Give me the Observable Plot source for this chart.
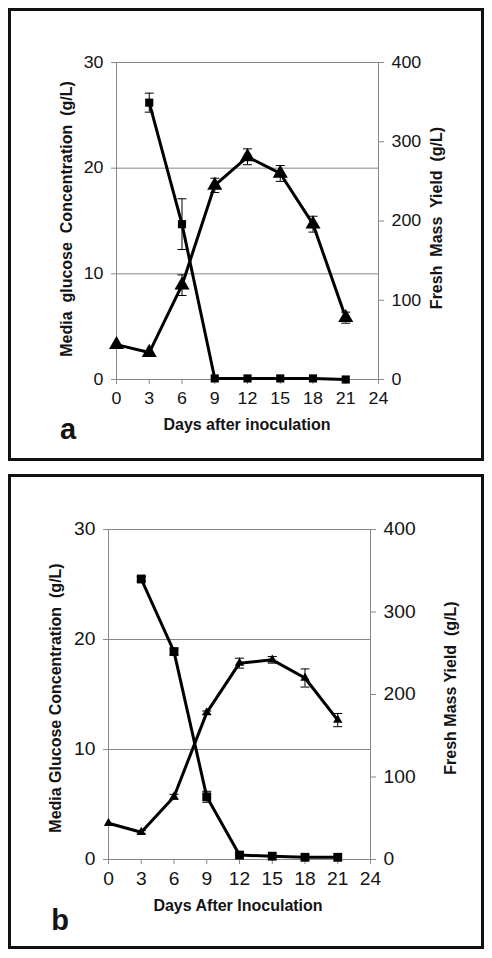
<!DOCTYPE html>
<html>
<head>
<meta charset="utf-8">
<script src="https://cdn.jsdelivr.net/npm/d3@7"></script>
<script src="https://cdn.jsdelivr.net/npm/@observablehq/plot@0.6"></script>
<style>
  html, body { margin: 0; padding: 0; background: #fff; }
  #page { position: relative; width: 492px; height: 958px; overflow: hidden; background: #fff; }
  #page svg { position: absolute; left: 0; }
</style>
</head>
<body>
<div id="page"></div>
<script>
// ---- data ----
const days = [0, 3, 6, 9, 12, 15, 18, 21];
const glucoseDays = [3, 6, 9, 12, 15, 18, 21];

// panel a
const glucoseA = [26.2, 14.7, 0.1, 0.1, 0.1, 0.1, 0.0];
const glucoseErrA = [0.9, 2.4, 0, 0, 0, 0, 0];
const massA = [44, 34, 119, 245, 281, 260, 196, 78];
const massErrA = [0, 0, 13, 9, 10, 10, 10, 7];

// panel b
const glucoseB = [25.5, 18.9, 5.7, 0.4, 0.3, 0.2, 0.2];
const glucoseErrB = [0.2, 0.3, 0.5, 0, 0, 0, 0];
const massB = [44, 33, 76, 178, 238, 242, 220, 169];
const massErrB = [0, 2, 3, 2, 6, 4, 11, 8];

const xTicks = [0, 3, 6, 9, 12, 15, 18, 21, 24];
const leftTicks = [0, 10, 20, 30];
const rightTicks = [0, 100, 200, 300, 400];
const gridTicks = [10, 20, 30];

const K = 30 / 400; // right-axis units to left-axis units

const GRAY = "#878787";
const INK = "#141414";
const FONT = "'Liberation Sans', Arial, sans-serif";

const capSymbol = {
  draw(context, size) {
    context.moveTo(-4.5, 0);
    context.lineTo(4.5, 0);
  }
};

function panel(cfg) {
  const g = cfg.glucose.map((v, i) => ({day: glucoseDays[i], v, e: cfg.glucoseErr[i]}));
  const m = cfg.mass.map((v, i) => ({day: days[i], v: v * K, e: cfg.massErr[i] * K}));
  const gErr = g.filter(d => d.e > 0);
  const mErr = m.filter(d => d.e > 0);
  const ends = [...gErr, ...mErr].flatMap(d => [{day: d.day, y: d.v + d.e}, {day: d.day, y: d.v - d.e}]);

  const svg = Plot.plot({
    width: 492,
    height: cfg.height,
    marginLeft: cfg.left,
    marginRight: 492 - cfg.right,
    marginTop: cfg.top,
    marginBottom: cfg.height - cfg.bottom,
    style: {fontFamily: FONT, fontSize: cfg.tickFont + "px", color: INK, background: "transparent", overflow: "visible"},
    x: {domain: [0, 24]},
    y: {domain: [0, 30]},
    marks: [
      Plot.ruleY(gridTicks, {stroke: GRAY, strokeWidth: 1}),
      Plot.ruleX([0, 24], {stroke: GRAY, strokeWidth: 1}),
      Plot.ruleY([0], {stroke: GRAY, strokeWidth: 1}),
      Plot.axisX({ticks: xTicks, tickSize: 5, tickPadding: cfg.xPad, stroke: GRAY, fill: INK, label: null, tickFormat: d => String(d)}),
      Plot.axisY({anchor: "left", ticks: leftTicks, tickSize: 5, tickPadding: 8, stroke: GRAY, fill: INK, label: null, tickFormat: d => String(d)}),
      Plot.axisY({anchor: "right", ticks: rightTicks.map(v => v * K), tickSize: 5, tickPadding: 8, stroke: GRAY, fill: INK, label: null, tickFormat: d => String(Math.round(d / K))}),
      Plot.line(m, {x: "day", y: "v", stroke: "#000", strokeWidth: 3, strokeLinejoin: "round"}),
      Plot.line(g, {x: "day", y: "v", stroke: "#000", strokeWidth: 3, strokeLinejoin: "round"}),
      Plot.ruleX(gErr, {x: "day", y1: d => d.v - d.e, y2: d => d.v + d.e, stroke: "#000", strokeWidth: 1}),
      Plot.ruleX(mErr, {x: "day", y1: d => d.v - d.e, y2: d => d.v + d.e, stroke: "#000", strokeWidth: 1}),
      Plot.dot(ends, {x: "day", y: "y", symbol: capSymbol, r: 3, stroke: "#000", fill: "none", strokeWidth: 1}),
      Plot.dot(m, {x: "day", y: "v", symbol: "triangle", r: cfg.triR, fill: "#000", stroke: "none"}),
      Plot.dot(g, {x: "day", y: "v", symbol: "square", r: cfg.sqR, fill: "#000", stroke: "none"})
    ]
  });
  svg.style.top = cfg.offset + "px";
  const s = d3.select(svg);
  // widen tick label glyphs slightly, as in the reference
  s.selectAll('g[aria-label$="tick label"] text').each(function() {
    const t = this.getAttribute("transform") || "";
    this.setAttribute("transform", t + ` scale(${cfg.stretch},1)`);
  });
  const oy = cfg.offset;
  // outer border
  s.append("rect")
    .attr("x", cfg.box[0]).attr("y", cfg.box[1] - oy)
    .attr("width", cfg.box[2]).attr("height", cfg.box[3])
    .attr("fill", "none").attr("stroke", "#111").attr("stroke-width", 3);
  const title = (txt, x, y, rot, size, weight) => {
    const t = s.append("text")
      .attr("transform", `translate(${x},${y - oy})` + (rot ? ` rotate(${rot})` : ""))
      .attr("text-anchor", "middle")
      .attr("dominant-baseline", "central")
      .attr("font-family", FONT)
      .attr("font-size", size)
      .attr("font-weight", weight)
      .attr("fill", INK)
      .attr("xml:space", "preserve")
      .style("white-space", "pre")
      .text(txt);
    return t;
  };
  title(cfg.leftTitle, cfg.leftTitlePos[0], cfg.leftTitlePos[1], -90, 16, "bold");
  title(cfg.rightTitle, cfg.rightTitlePos[0], cfg.rightTitlePos[1], -90, 16, "bold");
  title(cfg.xTitle, cfg.xTitlePos[0], cfg.xTitlePos[1], 0, 16, "bold");
  title(cfg.tag, cfg.tagPos[0], cfg.tagPos[1], 0, 29, "bold");
  return svg;
}

const page = document.getElementById("page");

page.appendChild(panel({
  offset: 0, height: 468,
  left: 116, right: 378, top: 62, bottom: 379,
  xPad: 8, tickFont: 16.5, stretch: 1.08,
  triR: 5.6, sqR: 4.6,
  glucose: glucoseA, glucoseErr: glucoseErrA, mass: massA, massErr: massErrA,
  box: [9.5, 9.5, 473, 450],
  leftTitle: "Media  glucose  Concentration  (g/L)", leftTitlePos: [66, 219],
  rightTitle: "Fresh  Mass  Yield  (g/L)", rightTitlePos: [436, 218],
  xTitle: "Days after inoculation", xTitlePos: [247, 424],
  tag: "a", tagPos: [68, 429]
}));

page.appendChild(panel({
  offset: 468, height: 490,
  left: 108, right: 370, top: 529 - 468, bottom: 859 - 468,
  xPad: 8, tickFont: 17.5, stretch: 1.1,
  triR: 3.5, sqR: 5.0,
  glucose: glucoseB, glucoseErr: glucoseErrB, mass: massB, massErr: massErrB,
  box: [9.5, 475.5, 473, 472],
  leftTitle: "Media Glucose Concentration  (g/L)", leftTitlePos: [55, 698],
  rightTitle: "Fresh Mass Yield  (g/L)", rightTitlePos: [450, 688],
  xTitle: "Days After Inoculation", xTitlePos: [238, 905],
  tag: "b", tagPos: [60, 920]
}));
</script>
</body>
</html>
